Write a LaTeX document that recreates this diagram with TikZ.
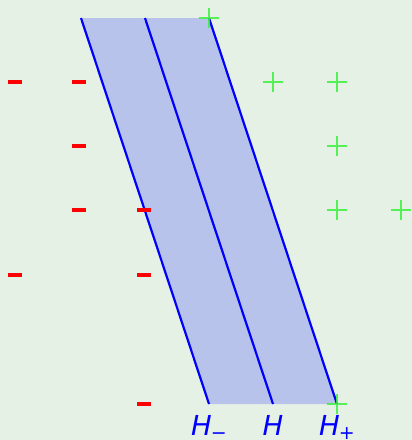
\documentclass[tikz,border=0pt]{standalone}
\usepackage{fontspec}
\setmainfont{DejaVu Sans}
\definecolor{bgc}{RGB}{230,241,229}
\definecolor{bandc}{RGB}{184,195,235}
\definecolor{plusc}{RGB}{60,240,60}
\begin{document}
\begin{tikzpicture}[x=1pt,y=-1pt,
  minussign/.style={fill=red, draw=none, rectangle, minimum width=14pt, minimum height=4pt, inner sep=0pt},
  plussign/.style={draw=none, fill=none, inner sep=0pt, minimum size=20pt,
    path picture={\draw[plusc, opacity=0.85, line width=1.7pt]
      (path picture bounding box.west) -- (path picture bounding box.east)
      (path picture bounding box.north) -- (path picture bounding box.south);}},
  bandline/.style={blue, line width=2.2pt},
  hlabel/.style={text=blue, font=\fontsize{27.5}{30}\selectfont\itshape, anchor=base, inner sep=0pt}]
\fill[bgc] (0,0) rectangle (412,440);
\useasboundingbox (0,0) rectangle (412,440);
\coordinate (a1) at (81,18);
\coordinate (b1) at (145,18);
\coordinate (c1) at (209,18);
\coordinate (a2) at (209,404);
\coordinate (b2) at (273,404);
\coordinate (c2) at (337,404);
\fill[bandc] (a1) -- (c1) -- (c2) -- (a2) -- cycle;
\draw[bandline] (a1) -- (a2);
\draw[bandline] (b1) -- (b2);
\draw[bandline] (c1) -- (c2);
% minus signs
\node[minussign] (m1) at (15,82) {};
\node[minussign] (m2) at (79,82) {};
\node[minussign] (m3) at (79,146) {};
\node[minussign] (m4) at (79,210) {};
\node[minussign] (m5) at (144,210) {};
\node[minussign] (m6) at (15,275) {};
\node[minussign] (m7) at (144,275) {};
\node[minussign] (m8) at (144,404) {};
% plus signs
\node[plussign] (p1) at (209,18) {};
\node[plussign] (p2) at (273,82) {};
\node[plussign] (p3) at (337,82) {};
\node[plussign] (p4) at (337,146) {};
\node[plussign] (p5) at (337,210) {};
\node[plussign] (p6) at (401,210) {};
\node[plussign] (p7) at (337,404) {};
% labels
\node[hlabel] (lm) at (209,435) {H\kern-1pt\raisebox{-4pt}{\fontsize{19}{19}\selectfont\upshape −}};
\node[hlabel] (lh) at (273,435) {H};
\node[hlabel] (lp) at (337,435) {H\kern-1pt\raisebox{-4pt}{\fontsize{19}{19}\selectfont\upshape +}};
\end{tikzpicture}
\end{document}
